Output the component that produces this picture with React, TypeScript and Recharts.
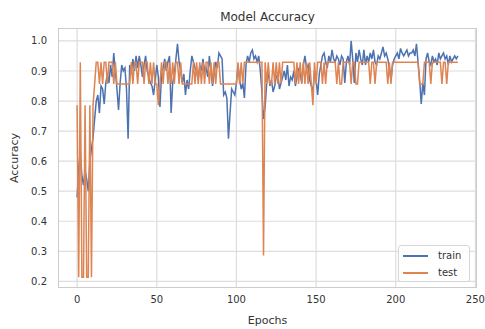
import { CartesianGrid, Line, LineChart, XAxis, YAxis } from 'recharts'

// accuracy per epoch
const trainAcc = [
  0.48, 0.58, 0.63, 0.55, 0.52, 0.57, 0.54, 0.5, 0.6, 0.64,
  0.68, 0.74, 0.8, 0.82, 0.76, 0.85, 0.84, 0.79, 0.86, 0.89,
  0.86, 0.92, 0.88, 0.96, 0.9, 0.84, 0.77, 0.86, 0.92, 0.9,
  0.91, 0.84, 0.675, 0.92, 0.89, 0.94, 0.9, 0.95, 0.91, 0.95,
  0.92, 0.88, 0.92, 0.95, 0.9, 0.88, 0.86, 0.85, 0.82, 0.87,
  0.92, 0.88, 0.78, 0.89, 0.91, 0.94, 0.9, 0.93, 0.95, 0.76,
  0.86, 0.89, 0.94, 0.99, 0.93, 0.9, 0.86, 0.89, 0.82, 0.87,
  0.84, 0.9, 0.95, 0.93, 0.91, 0.9, 0.87, 0.92, 0.9, 0.94,
  0.9, 0.91, 0.88, 0.95, 0.9, 0.85, 0.89, 0.93, 0.91, 0.96,
  0.95, 0.94, 0.82, 0.83, 0.81, 0.675, 0.76, 0.84, 0.83, 0.82,
  0.86, 0.92, 0.87, 0.84, 0.86, 0.81, 0.92, 0.95, 0.93, 0.96,
  0.97, 0.94, 0.95, 0.93, 0.95, 0.9, 0.83, 0.74, 0.78, 0.86,
  0.9, 0.85, 0.87, 0.83, 0.85, 0.88, 0.89, 0.84, 0.86, 0.88,
  0.9, 0.87, 0.92, 0.85, 0.88, 0.87, 0.9, 0.85, 0.88, 0.91,
  0.89, 0.86, 0.92, 0.95, 0.91, 0.92, 0.87, 0.85, 0.83, 0.9,
  0.87, 0.82, 0.89, 0.92, 0.95, 0.96, 0.93, 0.91, 0.95, 0.93,
  0.97, 0.94, 0.93, 0.95, 0.94, 0.92, 0.95, 0.94, 0.86, 0.93,
  0.95, 0.92, 1.0, 0.94, 0.86, 0.96, 0.93, 0.97, 0.94, 0.92,
  0.97, 0.92, 0.95, 0.93, 0.96, 0.94, 0.97, 0.93, 0.92, 0.95,
  0.94, 0.96, 0.98, 0.95, 0.96, 0.94, 0.91, 0.87, 0.92, 0.94,
  0.95, 0.96, 0.94, 0.975, 0.96, 0.95, 0.96, 0.97, 0.95, 0.96,
  0.96, 0.97, 0.95, 0.99, 0.93, 0.87, 0.79, 0.86, 0.82, 0.94,
  0.96, 0.93, 0.92, 0.95, 0.93, 0.94, 0.92, 0.96, 0.94, 0.95,
  0.96, 0.94, 0.95, 0.92, 0.95, 0.93, 0.94, 0.95, 0.94, 0.95,
]

const testAcc = [
  0.786, 0.214, 0.929, 0.214, 0.214, 0.786, 0.214, 0.214, 0.786, 0.214,
  0.786, 0.857, 0.929, 0.929, 0.857, 0.929, 0.857, 0.929, 0.929, 0.857,
  0.929, 0.929, 0.929, 0.857, 0.929, 0.857, 0.857, 0.857, 0.857, 0.857,
  0.857, 0.857, 0.857, 0.857, 0.929, 0.857, 0.929, 0.929, 0.857, 0.929,
  0.929, 0.929, 0.857, 0.929, 0.929, 0.857, 0.929, 0.857, 0.929, 0.857,
  0.857, 0.786, 0.857, 0.929, 0.857, 0.929, 0.929, 0.857, 0.929, 0.857,
  0.929, 0.857, 0.929, 0.929, 0.857, 0.929, 0.857, 0.857, 0.857, 0.857,
  0.857, 0.857, 0.857, 0.929, 0.857, 0.929, 0.857, 0.929, 0.857, 0.929,
  0.857, 0.929, 0.929, 0.857, 0.929, 0.857, 0.929, 0.857, 0.929, 0.929,
  0.857, 0.857, 0.857, 0.857, 0.857, 0.857, 0.857, 0.857, 0.857, 0.857,
  0.857, 0.929, 0.857, 0.929, 0.857, 0.929, 0.929, 0.929, 0.929, 0.929,
  0.929, 0.929, 0.929, 0.929, 0.929, 0.929, 0.929, 0.286, 0.929, 0.857,
  0.929, 0.857, 0.857, 0.929, 0.857, 0.929, 0.857, 0.929, 0.857, 0.929,
  0.929, 0.929, 0.929, 0.929, 0.929, 0.929, 0.929, 0.857, 0.929, 0.857,
  0.929, 0.857, 0.929, 0.857, 0.929, 0.857, 0.929, 0.857, 0.786, 0.929,
  0.857, 0.929, 0.929, 0.929, 0.857, 0.929, 0.857, 0.929, 0.929, 0.929,
  0.929, 0.929, 0.929, 0.857, 0.929, 0.857, 0.857, 0.929, 0.929, 0.929,
  0.929, 0.929, 0.857, 0.929, 0.929, 0.857, 0.857, 0.929, 0.929, 0.929,
  0.929, 0.929, 0.929, 0.929, 0.857, 0.929, 0.929, 0.857, 0.929, 0.929,
  0.929, 0.929, 0.929, 0.929, 0.929, 0.857, 0.929, 0.857, 0.929, 0.929,
  0.929, 0.929, 0.929, 0.929, 0.929, 0.929, 0.929, 0.929, 0.929, 0.929,
  0.929, 0.929, 0.929, 0.929, 0.929, 0.857, 0.857, 0.857, 0.929, 0.929,
  0.929, 0.929, 0.857, 0.929, 0.929, 0.929, 0.929, 0.929, 0.929, 0.857,
  0.929, 0.929, 0.857, 0.929, 0.929, 0.929, 0.929, 0.929, 0.929, 0.929,
]

const epochs = trainAcc.map((_, i) => i)
const xTicks = [0, 50, 100, 150, 200, 250]
const yTicks = [0.2, 0.3, 0.4, 0.5, 0.6, 0.7, 0.8, 0.9, 1.0]

const data = epochs.map((epoch, i) => ({
  epoch,
  train: trainAcc[i],
  test: testAcc[i],
}))

const font = '"DejaVu Sans", sans-serif'
const textColor = '#333333'
const blue = '#4c72b0'
const orange = '#dd8452'

const legendRows = [
  { name: 'train', color: blue },
  { name: 'test', color: orange },
]

export default function App() {
  return (
    <div style={{ position: 'absolute', left: 0, top: 0, width: 485, height: 329, background: '#fff' }}>
      <div
        style={{
          position: 'absolute',
          top: 10,
          left: 58,
          width: 419,
          textAlign: 'center',
          fontFamily: font,
          fontSize: 12,
          lineHeight: '14px',
          color: textColor,
        }}
      >
        Model Accuracy
      </div>
      <LineChart width={485} height={329} data={data} margin={{ top: 28, right: 8, left: 0, bottom: 0 }}>
        <CartesianGrid stroke='#dddddd' strokeWidth={1.2} horizontalValues={yTicks} verticalValues={xTicks} />
        <XAxis
          dataKey='epoch'
          type='number'
          domain={[-12, 251]}
          ticks={xTicks}
          height={41}
          tickLine={false}
          axisLine={false}
          tick={{ fill: textColor, fontSize: 10, fontFamily: font }}
          label={{ value: 'Epochs', position: 'insideBottom', offset: 5, fill: textColor, fontSize: 11, fontFamily: font }}
        />
        <YAxis
          type='number'
          domain={[0.178, 1.043]}
          ticks={yTicks}
          width={58}
          tickLine={false}
          axisLine={false}
          tickMargin={5}
          tickFormatter={(v: number) => v.toFixed(1)}
          tick={{ fill: textColor, fontSize: 10, fontFamily: font }}
          label={{
            value: 'Accuracy',
            angle: -90,
            position: 'insideLeft',
            offset: 14,
            style: { textAnchor: 'middle' },
            fill: textColor,
            fontSize: 11,
            fontFamily: font,
          }}
        />
        <Line dataKey='train' stroke={blue} strokeWidth={1.5} dot={false} isAnimationActive={false} />
        <Line dataKey='test' stroke={orange} strokeWidth={1.5} dot={false} isAnimationActive={false} />
      </LineChart>
      <div
        style={{
          position: 'absolute',
          left: 58,
          top: 28,
          width: 419,
          height: 260,
          boxSizing: 'border-box',
          border: '1px solid #cccccc',
          pointerEvents: 'none',
        }}
      />
      <div
        style={{
          position: 'absolute',
          left: 398,
          top: 245,
          width: 72,
          height: 37,
          boxSizing: 'border-box',
          border: '1px solid #d6d6d6',
          borderRadius: 3,
          background: 'rgba(255,255,255,0.85)',
          padding: '1px 0 0 4px',
          fontFamily: font,
          fontSize: 10,
          color: textColor,
        }}
      >
        {legendRows.map((r) => (
          <div key={r.name} style={{ display: 'flex', alignItems: 'center', height: 17 }}>
            <span style={{ width: 25, height: 2, background: r.color, marginRight: 10 }} />
            {r.name}
          </div>
        ))}
      </div>
    </div>
  )
}
